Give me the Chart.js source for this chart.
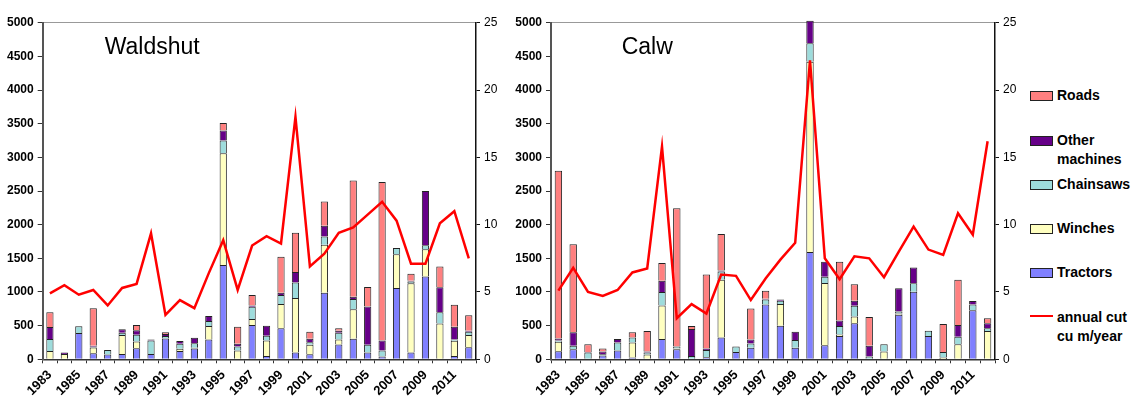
<!DOCTYPE html>
<html>
<head>
<meta charset="utf-8">
<script src="https://cdn.jsdelivr.net/npm/chart.js@4.4.1/dist/chart.umd.min.js"></script>
<style>
  html, body { margin: 0; padding: 0; background: #fff; }
  #wrap { position: relative; width: 1131px; height: 401px; overflow: hidden; font-family: "Liberation Sans", Arial, sans-serif; }
  .panel { position: absolute; top: 0; }
  .lg { position: absolute; left: 1057px; font-weight: bold; font-size: 14px; line-height: 19px; color: #000; white-space: nowrap; }
  .sw { position: absolute; left: 1030px; width: 23px; height: 10px; box-sizing: border-box; border: 1px solid #222; }
  .ln { position: absolute; left: 1030px; width: 23px; height: 2px; background: #ff0000; }
</style>
</head>
<body>
<div id="wrap">
  <div class="panel" style="left:0;"><canvas id="waldshut" width="505" height="401"></canvas></div>
  <div class="panel" style="left:505px;"><canvas id="calw" width="520" height="401"></canvas></div>

  <div class="sw" style="top:91px;background:#ff8080;"></div>
  <div class="lg" style="top:86px;">Roads</div>
  <div class="sw" style="top:136px;background:#660088;"></div>
  <div class="lg" style="top:131px;">Other<br>machines</div>
  <div class="sw" style="top:180px;background:#9edcdc;"></div>
  <div class="lg" style="top:175px;">Chainsaws</div>
  <div class="sw" style="top:224px;background:#ffffc0;"></div>
  <div class="lg" style="top:219px;">Winches</div>
  <div class="sw" style="top:268px;background:#8080ff;"></div>
  <div class="lg" style="top:263px;">Tractors</div>
  <div class="ln" style="top:315px;"></div>
  <div class="lg" style="top:308px;">annual cut<br>cu m/year</div>
</div>

<script>
// Years on the category axis
const years = ['1983','1984','1985','1986','1987','1988','1989','1990','1991','1992',
               '1993','1994','1995','1996','1997','1998','1999','2000','2001','2002',
               '2003','2004','2005','2006','2007','2008','2009','2010','2011','2012'];

// Left axis ticks (damage, stacked) and right axis ticks (annual cut)
const leftTicks = [0, 500, 1000, 1500, 2000, 2500, 3000, 3500, 4000, 4500, 5000];
const rightTicks = [0, 5, 10, 15, 20, 25];

// Waldshut
const waldshutTractors = [0,0,390,90,70,80,165,80,310,125,160,295,1400,0,510,50,460,100,75,990,220,305,100,40,1060,100,1230,0,50,180];
const waldshutWinches  = [125,80,0,85,0,280,100,0,0,30,10,200,1660,130,90,230,360,810,140,710,75,440,0,0,500,1030,405,530,225,180];
const waldshutChainsaws= [175,0,100,10,70,35,100,200,35,75,70,75,190,60,180,70,135,230,40,125,100,150,115,90,95,25,60,170,20,50];
const waldshutOther    = [180,20,0,15,0,50,65,15,30,40,80,75,150,40,20,150,35,155,50,160,30,35,570,150,0,10,805,370,190,15];
const waldshutRoads    = [220,0,0,560,0,0,80,0,25,0,0,0,110,255,155,0,535,585,105,360,35,1725,290,2355,0,105,0,310,325,230];
const waldshutCut      = [4.9,5.5,4.8,5.15,4.0,5.3,5.6,9.35,3.3,4.4,3.8,6.4,8.85,5.15,8.45,9.15,8.6,18.0,6.9,7.85,9.4,9.8,10.75,11.7,10.3,7.1,7.1,10.1,11.0,7.5];

// Calw
const calwTractors  = [120,150,0,55,130,25,10,300,150,0,30,325,110,170,815,500,170,1595,210,345,535,0,0,660,1005,345,5,0,730,0];
const calwWinches   = [140,0,0,0,0,225,60,500,10,0,0,855,0,0,0,320,0,2825,925,25,100,0,115,20,0,0,20,225,0,420];
const calwChainsaws = [20,50,100,20,120,75,30,200,30,50,110,125,80,65,75,50,115,275,90,125,160,40,110,30,125,80,85,110,85,40];
const calwOther     = [30,200,10,40,50,0,15,165,0,400,20,15,0,60,10,20,125,335,225,80,75,160,0,345,235,0,0,175,50,75];
const calwRoads     = [2490,1310,115,45,0,75,305,265,2055,45,1100,540,0,460,120,0,0,0,0,875,245,430,0,0,0,0,415,670,0,75];
const calwCut       = [5.1,6.8,5.0,4.7,5.15,6.45,6.75,15.8,3.05,4.1,3.4,6.3,6.2,4.4,6.0,7.4,8.65,22.2,7.5,5.95,7.65,7.5,6.1,8.0,9.85,8.15,7.75,10.85,9.25,16.2];

const FONT = '"Liberation Sans", Arial, sans-serif';
Chart.defaults.font.family = FONT;
Chart.defaults.color = '#000';

const COLORS = {
  tractors: '#8080ff',
  winches: '#ffffc0',
  chainsaws: '#9edcdc',
  other: '#660088',
  roads: '#ff8080',
  cut: '#ff0000'
};

// Draws the region name inside the plot area
const panelTitle = {
  id: 'panelTitle',
  afterDraw(chart, args, opts) {
    const ctx = chart.ctx;
    ctx.save();
    ctx.font = '23px ' + FONT;
    ctx.fillStyle = '#000';
    ctx.textBaseline = 'alphabetic';
    ctx.textAlign = 'left';
    ctx.fillText(opts.text, chart.chartArea.left + opts.dx, opts.baseline);
    ctx.restore();
  }
};

function nz(arr) { return arr.map(v => (v === 0 ? null : v)); }

function barSet(label, values, color) {
  return {
    type: 'bar',
    label: label,
    data: nz(values),
    backgroundColor: color,
    borderColor: '#222',
    borderWidth: 1,
    barPercentage: 0.5,
    categoryPercentage: 1.0,
    stack: 'damage',
    yAxisID: 'y',
    order: 1
  };
}

function makeChart(id, name, series, cut, leftW, rightW, titleDx) {
  return new Chart(document.getElementById(id), {
    type: 'bar',
    plugins: [panelTitle],
    data: {
      labels: years,
      datasets: [
        {
          type: 'line',
          label: 'annual cut cu m/year',
          data: cut,
          yAxisID: 'y1',
          borderColor: COLORS.cut,
          borderWidth: 2.5,
          pointRadius: 0,
          tension: 0,
          fill: false,
          order: 0
        },
        barSet('Tractors', series.tractors, COLORS.tractors),
        barSet('Winches', series.winches, COLORS.winches),
        barSet('Chainsaws', series.chainsaws, COLORS.chainsaws),
        barSet('Other machines', series.other, COLORS.other),
        barSet('Roads', series.roads, COLORS.roads)
      ]
    },
    options: {
      responsive: false,
      animation: false,
      clip: false,
      layout: { padding: { top: 22.7, bottom: 0, left: 0, right: 0 } },
      plugins: {
        legend: { display: false },
        tooltip: { enabled: false },
        panelTitle: { text: name, dx: titleDx, baseline: 54 }
      },
      scales: {
        x: {
          stacked: true,
          offset: true,
          border: { color: '#333', width: 1.5 },
          grid: { offset: true, drawOnChartArea: false, drawTicks: true, tickLength: 4, tickColor: '#333' },
          ticks: {
            autoSkip: false,
            minRotation: 45,
            maxRotation: 45,
            padding: 4,
            font: { size: 13, weight: 'bold' },
            callback: function(value, index) { return index % 2 === 0 ? this.getLabelForValue(value) : ''; }
          },
          afterFit(scale) { scale.height = 401 - 359.3; }
        },
        y: {
          stacked: true,
          position: 'left',
          min: leftTicks[0],
          max: leftTicks[leftTicks.length - 1],
          border: { color: '#555', width: 2 },
          grid: {
            drawOnChartArea: true,
            tickLength: 5,
            tickColor: '#333',
            color: ctx => (ctx.tick && ctx.tick.value === 5000 ? '#999' : 'rgba(0,0,0,0)')
          },
          afterBuildTicks(scale) { scale.ticks = leftTicks.map(v => ({ value: v })); },
          ticks: { padding: 4, font: { size: 12, weight: 'bold' }, callback: v => String(v) },
          afterFit(scale) { scale.width = leftW; }
        },
        y1: {
          position: 'right',
          min: rightTicks[0],
          max: rightTicks[rightTicks.length - 1],
          border: { color: '#111', width: 1.5 },
          grid: { drawOnChartArea: false, tickLength: 4, tickColor: '#111' },
          afterBuildTicks(scale) { scale.ticks = rightTicks.map(v => ({ value: v })); },
          ticks: { padding: 4, font: { size: 12 }, callback: v => String(v) },
          afterFit(scale) { scale.width = rightW; }
        }
      }
    }
  });
}

makeChart('waldshut', 'Waldshut', {
  tractors: waldshutTractors, winches: waldshutWinches, chainsaws: waldshutChainsaws,
  other: waldshutOther, roads: waldshutRoads
}, waldshutCut, 42.7, 29, 62);

makeChart('calw', 'Calw', {
  tractors: calwTractors, winches: calwWinches, chainsaws: calwChainsaws,
  other: calwOther, roads: calwRoads
}, calwCut, 46, 30, 70.7);
</script>
</body>
</html>
